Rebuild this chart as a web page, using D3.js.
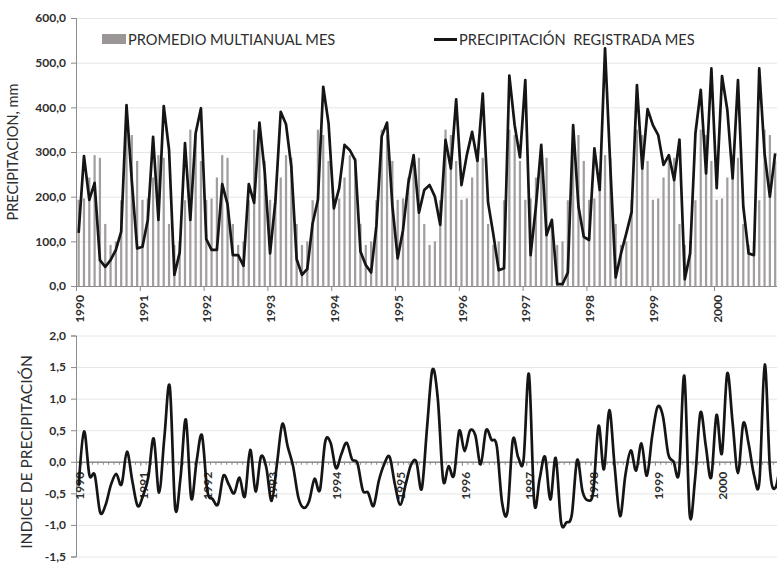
<!DOCTYPE html>
<html>
<head>
<meta charset="utf-8">
<script src="https://cdn.jsdelivr.net/npm/d3@7"></script>
<style>
body { margin: 0; background: #fff; }
text { font-family: Lato, "Open Sans", sans-serif; fill: #2e2e2e; }
</style>
</head>
<body>
<script>
var years = [1990, 1991, 1992, 1993, 1994, 1995, 1996, 1997, 1998, 1999, 2000];

// promedio multianual por mes (ene..dic), mm
var promedioMes = [193, 196, 243, 293, 287, 139, 92, 100, 192, 350, 338, 280];

// precipitacion registrada, mm (ene 1990 .. dic 2000)
var precipRegistrada = [
  119, 291, 193, 231, 58, 43, 58, 81, 122, 405, 235, 84,
  88, 148, 334, 148, 403, 305, 25, 75, 320, 148, 342, 398,
  105, 81, 81, 228, 183, 69, 69, 45, 228, 186, 366, 255,
  73, 190, 390, 362, 267, 60, 25, 38, 140, 193, 446, 364,
  174, 219, 316, 304, 282, 77, 47, 30, 135, 335, 366, 180,
  62, 125, 230, 293, 164, 215, 226, 200, 137, 327, 263, 418,
  226, 293, 345, 280, 431, 187, 115, 35, 40, 471, 360, 288,
  461, 69, 178, 316, 114, 148, 4, 4, 30, 360, 178, 110,
  103, 308, 215, 532, 265, 19, 73, 118, 166, 450, 263, 396,
  360, 338, 271, 293, 237, 328, 15, 73, 342, 439, 252, 487,
  219, 470, 394, 241, 461, 178, 73, 69, 487, 297, 200, 297
];

// indice de precipitacion
var indicePrecip = [
  -0.38, 0.48, -0.21, -0.21, -0.80, -0.69, -0.37, -0.19, -0.36, 0.16, -0.30, -0.70,
  -0.54, -0.24, 0.37, -0.49, 0.40, 1.19, -0.73, -0.25, 0.67, -0.58, 0.01, 0.42,
  -0.46, -0.59, -0.67, -0.22, -0.36, -0.50, -0.25, -0.55, 0.19, -0.47, 0.08, -0.09,
  -0.62, -0.03, 0.60, 0.24, -0.07, -0.57, -0.73, -0.62, -0.27, -0.45, 0.32, 0.30,
  -0.10, 0.12, 0.30, 0.04, -0.02, -0.45, -0.49, -0.70, -0.30, -0.04, 0.08, -0.36,
  -0.68, -0.36, -0.05, 0.00, -0.43, 0.55, 1.46, 1.00, -0.29, -0.07, -0.22, 0.49,
  0.17, 0.49, 0.42, -0.04, 0.50, 0.35, 0.25, -0.65, -0.79, 0.35, 0.07, 0.03,
  1.39, -0.65, -0.27, 0.08, -0.60, 0.06, -0.96, -0.96, -0.84, 0.03, -0.47, -0.61,
  -0.47, 0.57, -0.12, 0.82, -0.08, -0.86, -0.21, 0.18, -0.14, 0.29, -0.22, 0.41,
  0.87, 0.72, 0.12, 0.00, -0.17, 1.36, -0.84, -0.27, 0.78, 0.25, -0.25, 0.74,
  0.13, 1.40, 0.62, -0.18, 0.61, 0.28, -0.21, -0.31, 1.54, -0.15, -0.41, 0.06
];

var yTicksTop = [0, 100, 200, 300, 400, 500, 600];
var yTicksBot = [-1.5, -1, -0.5, 0, 0.5, 1, 1.5, 2];

var width = 777, height = 564;
var left = 76;
var nMonths = precipRegistrada.length;

var loc = d3.formatLocale({decimal: ",", thousands: ".", grouping: [3], currency: ["", ""], minus: "-"});
var fmt = loc.format(".1f");

var svg = d3.select("body").append("svg")
    .attr("width", width).attr("height", height);

// ---------- panel superior ----------
var xTop = d3.scaleBand().domain(d3.range(nMonths))
    .range([left, left + nMonths * 5.317])
    .paddingInner(0.58).paddingOuter(0.29);
var xTopYear = d3.scaleLinear().domain([0, nMonths]).range([left, left + nMonths * 5.317]);
var yTop = d3.scaleLinear().domain([0, 600]).range([286, 18]);

svg.append("g")
    .attr("transform", "translate(" + left + ",0)")
    .call(d3.axisLeft(yTop).tickValues(yTicksTop).tickSize(-(width - left)).tickFormat(""))
    .call(function(g){ g.select(".domain").remove(); })
    .selectAll("line").attr("stroke", "#e6e6e6");

svg.selectAll("rect.bar")
  .data(precipRegistrada.map(function(d, i){ return {i: i, v: promedioMes[i % 12]}; }))
  .enter().append("rect")
    .attr("class", "bar")
    .attr("x", function(d){ return xTop(d.i); })
    .attr("width", xTop.bandwidth())
    .attr("y", function(d){ return yTop(d.v); })
    .attr("height", function(d){ return yTop(0) - yTop(d.v); })
    .attr("fill", "#a39e9e");

svg.append("g")
    .attr("transform", "translate(" + left + ",0)")
    .call(d3.axisLeft(yTop).tickValues(yTicksTop).tickSize(5).tickPadding(5).tickFormat(fmt));

var xAxisTop = svg.append("g")
    .attr("transform", "translate(0," + yTop(0) + ")")
    .call(d3.axisBottom(xTopYear).tickValues(years.map(function(y, k){ return k * 12; }))
        .tickSize(5).tickFormat(function(d, k){ return years[k]; }));
xAxisTop.select(".domain").attr("d", "M" + left + ",0.5H" + width);
xAxisTop.selectAll("text")
    .attr("transform", "rotate(-90)")
    .attr("x", -9).attr("y", 3).attr("dy", "0.35em")
    .style("text-anchor", "end");

var lineTop = d3.line()
    .x(function(d, i){ return xTop(i) + xTop.bandwidth() / 2; })
    .y(function(d){ return yTop(d); });

svg.append("path")
    .attr("fill", "none")
    .attr("stroke", "#151515")
    .attr("stroke-width", 2.7)
    .attr("stroke-linejoin", "round")
    .attr("d", lineTop(precipRegistrada));

// ---------- panel inferior ----------
var xBot = d3.scalePoint().domain(d3.range(nMonths))
    .range([left, left + nMonths * 5.36]).padding(0.5);
var xBotYear = d3.scaleLinear().domain([0, nMonths]).range([left, left + nMonths * 5.36]);
var yBot = d3.scaleLinear().domain([-1.5, 2]).range([556.5, 335.5]);

svg.append("g")
    .attr("transform", "translate(" + left + ",0)")
    .call(d3.axisLeft(yBot).tickValues(yTicksBot).tickSize(-(width - left)).tickFormat(""))
    .call(function(g){ g.select(".domain").remove(); })
    .selectAll("line").attr("stroke", "#e6e6e6");

svg.append("g")
    .attr("transform", "translate(" + left + ",0)")
    .call(d3.axisLeft(yBot).tickValues(yTicksBot).tickSize(5).tickPadding(5).tickFormat(fmt));

var minorAxis = svg.append("g")
    .attr("transform", "translate(0," + yBot(0) + ")")
    .call(d3.axisBottom(xBotYear).tickValues(d3.range(0, nMonths + 1)).tickSize(3).tickFormat(""));
minorAxis.select(".domain").attr("d", "M" + left + ",0.5H" + width).attr("stroke-width", 1.5);

var xAxisBot = svg.append("g")
    .attr("transform", "translate(0," + yBot(0) + ")")
    .call(d3.axisBottom(xBotYear).tickValues(years.map(function(y, k){ return k * 12; }))
        .tickSize(4).tickFormat(function(d, k){ return years[k]; }));
xAxisBot.select(".domain").remove();
xAxisBot.selectAll("text")
    .attr("transform", "rotate(-90)")
    .attr("x", -10).attr("y", 3).attr("dy", "0.35em")
    .style("text-anchor", "end");

var lineBot = d3.line()
    .x(function(d, i){ return xBot(i); })
    .y(function(d){ return yBot(d); })
    .curve(d3.curveCatmullRom.alpha(0));

svg.append("path")
    .attr("fill", "none")
    .attr("stroke", "#151515")
    .attr("stroke-width", 2.7)
    .attr("d", lineBot(indicePrecip));

// estilos de ejes
svg.selectAll(".domain").attr("stroke", "#8c8c8c");
svg.selectAll(".tick line").filter(function(){ return d3.select(this).attr("stroke") !== "#e6e6e6"; })
    .attr("stroke", "#8c8c8c");
svg.selectAll(".tick text")
    .style("font-size", "12px").style("font-weight", "bold").attr("fill", "#3a3a3a");

// titulos
svg.append("text")
    .attr("transform", "translate(18,152) rotate(-90)")
    .attr("text-anchor", "middle")
    .style("font-size", "14.5px")
    .text("PRECIPITACION, mm");

svg.append("text")
    .attr("transform", "translate(32,452) rotate(-90)")
    .attr("text-anchor", "middle")
    .style("font-size", "15.5px")
    .text("INDICE DE PRECIPITACIÓN");

// leyenda
svg.append("rect")
    .attr("x", 102).attr("y", 34).attr("width", 24).attr("height", 10)
    .attr("fill", "#9a9696");
svg.append("text")
    .attr("x", 128).attr("y", 45)
    .style("font-size", "14.6px")
    .text("PROMEDIO MULTIANUAL MES");

svg.append("line")
    .attr("x1", 434).attr("x2", 457).attr("y1", 39.5).attr("y2", 39.5)
    .attr("stroke", "#151515").attr("stroke-width", 3);
svg.append("text")
    .attr("x", 459).attr("y", 45)
    .style("font-size", "14.6px")
    .style("white-space", "pre")
    .text("PRECIPITACIÓN  REGISTRADA MES");
</script>
</body>
</html>
